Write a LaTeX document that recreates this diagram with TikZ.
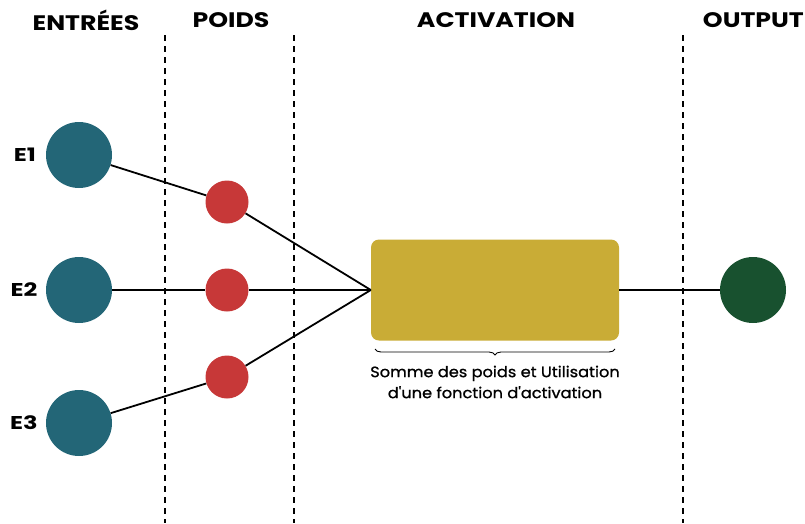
\documentclass[tikz,border=0pt]{standalone}
\usepackage{fontspec}
\setmainfont{Poppins}
\newfontfamily\hdrfont[FakeStretch=1.2]{Poppins}
\newfontfamily\lblfont[FakeStretch=1.3]{Poppins}
\newfontfamily\capfont[FakeStretch=1.08,FakeBold=1]{Poppins}
\usetikzlibrary{decorations.pathreplacing}
\definecolor{teal}{HTML}{236677}
\definecolor{wred}{HTML}{C73838}
\definecolor{gold}{HTML}{C9AC36}
\definecolor{dgreen}{HTML}{18512F}
\begin{document}
\begin{tikzpicture}[x=1pt,y=-1pt,
  inp/.style={circle,fill=teal,minimum size=66pt,inner sep=0pt},
  wt/.style={circle,fill=wred,minimum size=43pt,inner sep=0pt},
  outp/.style={circle,fill=dgreen,minimum size=66pt,inner sep=0pt},
  hdr/.style={font=\hdrfont\bfseries\fontsize{21}{24}\selectfont},
  lbl/.style={font=\lblfont\fontsize{18.5}{22}\selectfont\bfseries},
  conn/.style={line width=1.8pt,black},
  sep/.style={line width=1.3pt,dash pattern=on 6pt off 5pt}]
\useasboundingbox (0,0) rectangle (805,523);
% separators
\coordinate (s1t) at (165,35); \coordinate (s1b) at (165,523);
\coordinate (s2t) at (294,35); \coordinate (s2b) at (294,523);
\coordinate (s3t) at (683,35); \coordinate (s3b) at (683,523);
\draw[sep] (s1t) -- (s1b);
\draw[sep] (s2t) -- (s2b);
\draw[sep] (s3t) -- (s3b);
% headers
\node[hdr] (h1) at (86,20) {ENTRÉES};
\node[hdr] (h2) at (231,20) {POIDS};
\node[hdr] (h3) at (496,20) {ACTIVATION};
\node[hdr,anchor=east,inner xsep=1pt] (h4) at (805,20) {OUTPUT};
% nodes
\node[inp] (e1) at (79,155) {};
\node[inp] (e2) at (79,290) {};
\node[inp] (e3) at (79,423) {};
\node[lbl] (l1) at (25,155) {E1};
\node[lbl] (l2) at (24,290) {E2};
\node[lbl] (l3) at (24,423) {E3};
\node[wt] (w1) at (227,202) {};
\node[wt] (w2) at (227,290) {};
\node[wt] (w3) at (227,377) {};
\node[rectangle,rounded corners=8pt,fill=gold,minimum width=248pt,minimum height=101pt,inner sep=0pt] (act) at (495,290) {};
\node[outp] (out) at (753,290) {};
% connectors
\draw[conn] (e1) -- (w1);
\draw[conn] (e2) -- (w2);
\draw[conn] (e3) -- (w3);
\draw[conn] (w1) -- (act.west);
\draw[conn] (w2) -- (act.west);
\draw[conn] (w3) -- (act.west);
\draw[conn] (act.east) -- (out);
% brace
\coordinate (bl) at (375,349);
\coordinate (br) at (615,349);
\draw[line width=0.9pt,decorate,decoration={brace,mirror,amplitude=6pt,aspect=0.5}] (bl) -- (br);
\node[font=\capfont\fontsize{15}{21}\selectfont,align=center] (txt) at (495,382) {Somme des poids et Utilisation\\d'une fonction d'activation};
\end{tikzpicture}
\end{document}
